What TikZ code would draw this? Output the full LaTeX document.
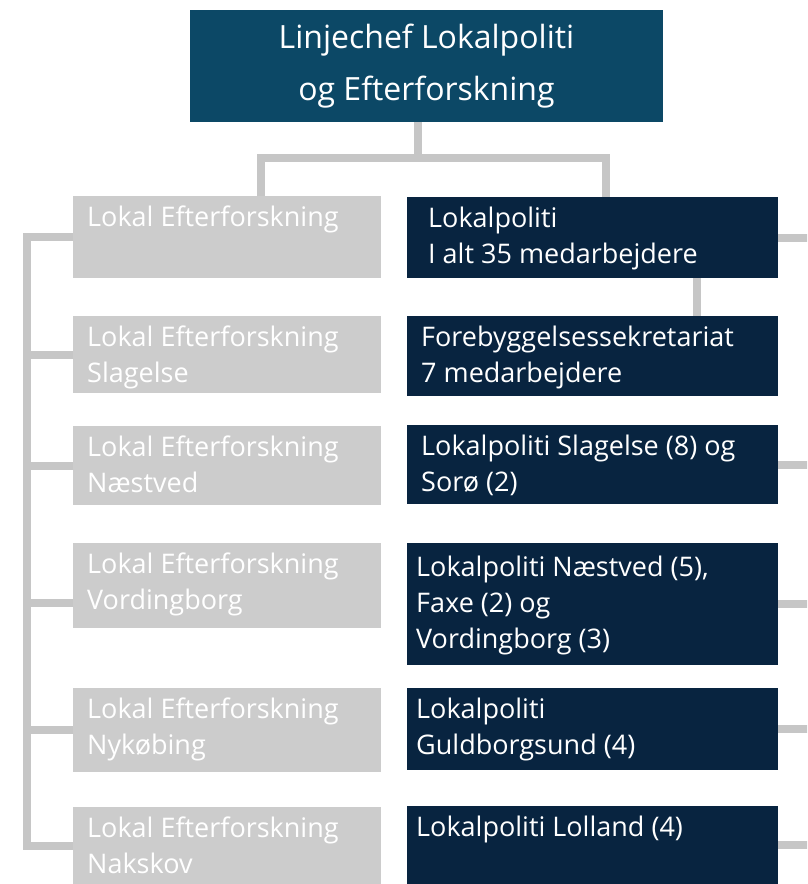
\documentclass[tikz,border=0pt]{standalone}
\usepackage{fontspec}
\setmainfont{Open Sans}
\usetikzlibrary{positioning}
\definecolor{chefblue}{HTML}{0C4866}
\definecolor{politinavy}{HTML}{082440}
\definecolor{eftergray}{HTML}{CCCCCC}
\definecolor{conngray}{HTML}{C6C6C6}
\tikzset{conn/.style={conngray, line width=8pt},
  boxtext/.style={anchor=north west, inner xsep=14pt, inner ysep=10pt, align=left, text=white, font=\fontsize{27}{36}\selectfont},
  efterbox/.style={fill=eftergray, anchor=north west, inner sep=0pt, minimum width=308pt},
  politibox/.style={fill=politinavy, anchor=north west, inner sep=0pt, minimum width=371pt}}

\begin{document}
\begin{tikzpicture}[x=1pt,y=-1pt]
   \clip (0,0) rectangle (807,884);
   \fill[white] (0,0) rectangle (807,884);
   \node[fill=chefblue, minimum width=473pt, minimum height=112pt, text=white, align=center, font=\fontsize{32}{52}\selectfont] (chef) at (426.5,66) {Linjechef Lokalpoliti\\og Efterforskning};
   % left column
   \node[efterbox, minimum height=82pt] (efter) at (73,196) {};
   \node[efterbox, minimum height=77pt] (efterSlagelse) at (73,316) {};
   \node[efterbox, minimum height=79pt] (efterNaestved) at (73,426) {};
   \node[efterbox, minimum height=85pt] (efterVordingborg) at (73,543) {};
   \node[efterbox, minimum height=84pt] (efterNykobing) at (73,688) {};
   \node[efterbox, minimum height=77pt] (efterNakskov) at (73,807) {};
   \node[boxtext] (efter-t) at (efter.north west) {Lokal Efterforskning};
   \node[boxtext] (efterSlagelse-t) at (efterSlagelse.north west) {Lokal Efterforskning\\Slagelse};
   \node[boxtext] (efterNaestved-t) at (efterNaestved.north west) {Lokal Efterforskning\\Næstved};
   \node[boxtext] (efterVordingborg-t) at (efterVordingborg.north west) {Lokal Efterforskning\\Vordingborg};
   \node[boxtext] (efterNykobing-t) at (efterNykobing.north west) {Lokal Efterforskning\\Nykøbing};
   \node[boxtext] (efterNakskov-t) at (efterNakskov.north west) {Lokal Efterforskning\\Nakskov};
   % right column
   \node[politibox, minimum height=81pt] (lokal) at (407,197) {};
   \node[politibox, minimum height=80pt] (forebyg) at (407,316) {};
   \node[politibox, minimum height=79pt] (lokalSlagelse) at (407,425) {};
   \node[politibox, minimum height=122pt] (lokalNaestved) at (407,543) {};
   \node[politibox, minimum height=82pt] (lokalGuldborgsund) at (407,688) {};
   \node[politibox, minimum height=78pt] (lokalLolland) at (407,806) {};
   \node[boxtext, inner xsep=21pt] (lokal-t) at (lokal.north west) {Lokalpoliti\\I alt 35 medarbejdere};
   \node[boxtext] (forebyg-t) at (forebyg.north west) {Forebyggelsessekretariat\\7 medarbejdere};
   \node[boxtext] (lokalSlagelse-t) at (lokalSlagelse.north west) {Lokalpoliti Slagelse (8) og\\Sorø (2)};
   \node[boxtext, inner xsep=9pt, inner ysep=13pt] (lokalNaestved-t) at (lokalNaestved.north west) {Lokalpoliti Næstved (5),\\Faxe (2) og\\Vordingborg (3)};
   \node[boxtext, inner xsep=9pt] (lokalGuldborgsund-t) at (lokalGuldborgsund.north west) {Lokalpoliti\\Guldborgsund (4)};
   \node[boxtext, inner xsep=9pt] (lokalLolland-t) at (lokalLolland.north west) {Lokalpoliti Lolland (4)};
   % connectors
   \coordinate (splitL) at (261,158);
   \coordinate (splitR) at (606,158);
   \coordinate (spine) at (27,0);
   \coordinate (edge) at (815,0);
   \coordinate (fb) at (697,0);
   \draw[conn] (chef.south -| 418,0) -- (418,158);
   \draw[conn] (efter.north -| splitL) -- (splitL) -- (splitR) -- (lokal.north -| splitR);
   \draw[conn] (efter.west) -- (efter.west -| spine) -- (efterNakskov.west -| spine) -- (efterNakskov.west);
   \draw[conn] (efterSlagelse.west) -- (efterSlagelse.west -| spine);
   \draw[conn] (efterNaestved.west) -- (efterNaestved.west -| spine);
   \draw[conn] ([yshift=-17pt]efterVordingborg.west) -- ([yshift=-17pt]efterVordingborg.west -| spine);
   \draw[conn] (efterNykobing.west) -- (efterNykobing.west -| spine);
   \draw[conn] (lokal.south -| fb) -- (forebyg.north -| fb);
   \draw[conn] (lokal.east) -- (lokal.east -| edge);
   \draw[conn] (lokalSlagelse.east) -- (lokalSlagelse.east -| edge);
   \draw[conn] (lokalNaestved.east) -- (lokalNaestved.east -| edge);
   \draw[conn] (lokalGuldborgsund.east) -- (lokalGuldborgsund.east -| edge);
   \draw[conn] (lokalLolland.east) -- (lokalLolland.east -| edge);
\end{tikzpicture}
\end{document}
